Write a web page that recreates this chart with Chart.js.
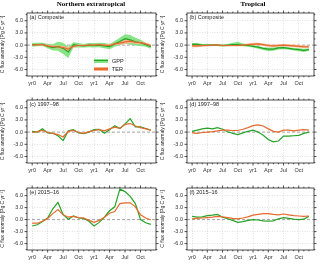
<!DOCTYPE html>
<html><head><meta charset="utf-8">
<script src="https://cdn.jsdelivr.net/npm/chart.js@4/dist/chart.umd.min.js"></script>
<style>
html,body{margin:0;padding:0;background:#fff;width:320px;height:265px;overflow:hidden;position:relative;font-family:"Liberation Sans",Arial,sans-serif;}
canvas{position:absolute;}
.ct{position:absolute;top:0;font-family:"Liberation Serif","Times New Roman",serif;font-weight:bold;font-size:7px;line-height:8px;white-space:nowrap;transform:translateX(-50%);color:#000;}
.pl{position:absolute;font-size:5.5px;line-height:6px;color:#222;white-space:nowrap;}
.sw{position:absolute;width:14px;height:4px;}
.sw i{position:absolute;left:0;right:0;top:1.4px;height:1.2px;}
</style></head><body>
<script>
// ---- data ----
const MONTH_INDEX = [0,1,2,3,4,5,6,7,8,9,10,11,12,13,14,15,16,17,18,19,20,21,22,23];
const TICK_POS = [0,3,6,9,12,15,18,21];
const TICK_LABELS = ['yr0','Apr','Jul','Oct','yr1','Apr','Jul','Oct'];
const Y_TICKS = [-6,-3,0,3,6];
const Y_MINOR = [-7.5,-4.5,-1.5,1.5,4.5,7.5];

// (a) Northern extratropical composite
const A_GPP    = [0.1,0.1,0.2,-0.3,-0.6,-0.4,-0.8,-1.7,0.1,-0.1,-0.2,0.0,-0.1,0.0,-0.2,-0.4,0.3,0.9,1.6,1.3,0.8,0.6,0.1,-0.4];
const A_GPP_HI = [0.6,0.6,0.6,0.3,0.2,0.8,0.6,-0.4,0.7,0.5,0.3,0.5,0.5,0.6,0.5,0.3,1.0,1.8,2.7,2.5,1.8,1.3,0.6,0.0];
const A_GPP_LO = [-0.4,-0.3,-0.2,-0.8,-1.3,-1.4,-2.2,-3.2,-0.6,-0.6,-0.6,-0.5,-0.6,-0.5,-0.8,-1.0,-0.4,0.0,0.4,0.1,-0.1,-0.2,-0.4,-0.9];
const A_TER    = [0.0,0.1,0.1,-0.2,-0.4,-0.4,-0.6,-1.0,-0.3,-0.1,-0.1,0.0,0.0,0.1,0.0,-0.1,0.3,0.5,0.8,1.0,0.7,0.6,0.3,-0.1];
const A_TER_HI = [0.2,0.3,0.3,0.1,-0.1,-0.1,-0.2,-0.5,0.0,0.1,0.1,0.2,0.2,0.3,0.2,0.2,0.6,0.9,1.3,1.4,1.1,0.9,0.6,0.2];
const A_TER_LO = [-0.2,-0.1,-0.1,-0.5,-0.8,-0.8,-1.1,-1.6,-0.6,-0.3,-0.3,-0.2,-0.2,-0.1,-0.2,-0.4,0.0,0.1,0.3,0.5,0.3,0.3,0.0,-0.4];

// (b) Tropical composite
const B_GPP    = [0.2,0.2,0.0,0.0,0.0,0.0,-0.1,0.0,0.1,0.1,0.0,-0.1,-0.3,-0.5,-0.8,-1.0,-1.0,-0.7,-0.6,-0.8,-1.0,-1.1,-1.3,-1.1];
const B_GPP_HI = [0.5,0.5,0.3,0.2,0.2,0.2,0.2,0.3,0.6,0.8,0.4,0.2,0.0,-0.2,-0.5,-0.6,-0.6,-0.4,-0.3,-0.5,-0.7,-0.8,-0.9,-0.8];
const B_GPP_LO = [-0.1,-0.1,-0.3,-0.3,-0.2,-0.2,-0.4,-0.3,-0.2,-0.2,-0.3,-0.4,-0.6,-0.9,-1.2,-1.5,-1.4,-1.1,-1.0,-1.1,-1.3,-1.5,-1.7,-1.4];
const B_TER    = [-0.2,-0.2,-0.1,-0.1,0.0,0.0,-0.1,-0.1,-0.1,-0.1,0.0,0.1,0.2,0.3,0.1,-0.1,-0.2,-0.1,0.0,-0.1,-0.2,-0.3,-0.4,-0.4];
const B_TER_HI = [0.1,0.1,0.1,0.1,0.2,0.2,0.1,0.1,0.1,0.1,0.2,0.4,0.6,0.6,0.4,0.2,0.1,0.2,0.3,0.2,0.1,0.0,-0.1,-0.1];
const B_TER_LO = [-0.5,-0.5,-0.4,-0.3,-0.2,-0.2,-0.3,-0.3,-0.3,-0.3,-0.2,-0.2,-0.1,0.0,-0.2,-0.4,-0.5,-0.4,-0.3,-0.4,-0.5,-0.6,-0.7,-0.7];

// (c) Northern extratropical 1997-98
const C_GPP = [0.2,0.0,0.8,-0.2,-0.3,-0.9,-2.1,0.3,0.6,-0.2,-0.4,0.0,0.6,0.7,-0.3,0.6,1.6,0.9,2.0,3.3,1.3,1.3,0.9,0.5];
const C_TER = [-0.1,0.1,0.4,-0.1,-0.3,-0.6,-1.2,0.2,0.4,-0.1,-0.3,0.1,0.4,0.6,0.3,0.8,1.2,0.9,1.9,2.1,1.5,1.1,0.8,0.5];
// (d) Tropical 1997-98
const D_GPP = [0.2,0.5,0.8,1.0,0.8,1.1,0.7,0.1,-0.3,-0.6,-0.2,0.2,0.5,0.0,-0.8,-1.8,-2.4,-2.2,-1.0,-1.0,-0.9,-0.8,-0.3,0.0];
const D_TER = [-0.2,-0.3,-0.1,0.0,0.1,0.3,0.5,0.5,0.4,0.4,0.7,1.1,1.6,1.8,1.5,0.8,0.2,0.0,0.5,0.5,0.3,0.5,0.6,0.5];
// (e) Northern extratropical 2015-16
const E_GPP = [-1.6,-1.3,-0.5,0.4,2.7,4.3,1.3,0.1,0.9,0.4,0.3,-0.4,-1.6,-0.7,0.6,2.2,3.2,7.6,7.0,5.8,4.0,0.0,-0.8,-1.2];
const E_TER = [-0.9,-0.9,-0.4,0.3,1.5,2.5,1.2,0.6,0.8,0.5,0.4,-0.2,-0.7,-0.2,0.6,1.6,2.0,4.0,4.2,4.2,3.2,1.2,0.4,-0.1];
// (f) Tropical 2015-16
const F_GPP = [0.8,0.6,0.7,1.0,1.1,1.3,0.6,0.2,-0.2,-0.7,-0.5,-0.2,0.0,-0.1,-0.3,-0.4,-0.3,0.2,0.5,0.3,0.1,0.0,0.1,0.8];
const F_TER = [0.2,0.3,0.4,0.5,0.6,0.8,0.7,0.5,0.3,0.2,0.4,0.7,1.1,1.3,1.5,1.5,1.3,1.2,1.4,1.2,1.0,0.9,0.8,0.9];

// ---- styles ----
const GPP_COLOR = '#26a226';
const TER_COLOR = '#e66a2c';
const GPP_BAND = '#86e486';
const TER_BAND = '#f6b48c';
const FONT = '"Liberation Sans", Arial, sans-serif';
const Y_MIN = -7.6, Y_MAX = 7.9;

function pts(arr){ return MONTH_INDEX.map((m,i)=>({x:m,y:arr[i]})); }
function lineDs(arr,color){ return {data:pts(arr),borderColor:color,borderWidth:1.2,pointRadius:0,fill:false,tension:0}; }
function bandDs(hi,lo,color){
  return [
    {data:pts(hi),borderColor:'rgba(0,0,0,0)',borderWidth:0,pointRadius:0,fill:'+1',backgroundColor:color,tension:0},
    {data:pts(lo),borderColor:'rgba(0,0,0,0)',borderWidth:0,pointRadius:0,fill:false,tension:0}
  ];
}

const decor = {
  id:'decor',
  beforeDatasetsDraw(chart){
    const {ctx, chartArea:a, scales:{y}} = chart;
    const y0 = y.getPixelForValue(0);
    ctx.save(); ctx.strokeStyle='#8a8a8a'; ctx.lineWidth=0.8; ctx.setLineDash([3,2]);
    ctx.beginPath(); ctx.moveTo(a.left,y0); ctx.lineTo(a.right,y0); ctx.stroke(); ctx.restore();
  },
  afterDraw(chart){
    const {ctx, chartArea:a, scales:{x,y}} = chart;
    ctx.save();
    ctx.strokeStyle='#222'; ctx.lineWidth=0.8;
    ctx.strokeRect(a.left, a.top, a.right-a.left, a.bottom-a.top);
    ctx.beginPath();
    MONTH_INDEX.forEach(m=>{
      const px = x.getPixelForValue(m);
      const L = TICK_POS.includes(m) ? 2.5 : 1.3;
      ctx.moveTo(px,a.bottom); ctx.lineTo(px,a.bottom+L);
      ctx.moveTo(px,a.top); ctx.lineTo(px,a.top-L);
    });
    Y_TICKS.concat(Y_MINOR).forEach(v=>{
      const py = y.getPixelForValue(v);
      const L = Y_TICKS.includes(v) ? 2.5 : 1.3;
      ctx.moveTo(a.left,py); ctx.lineTo(a.left-L,py);
      ctx.moveTo(a.right,py); ctx.lineTo(a.right+L,py);
    });
    ctx.stroke();
    ctx.restore();
  }
};

function makePanel(left, top, w, h, area, datasets){
  const c = document.createElement('canvas');
  c.width = w; c.height = h;
  c.style.left = left+'px'; c.style.top = top+'px';
  c.style.width = w+'px'; c.style.height = h+'px';
  document.body.appendChild(c);
  new Chart(c, {
    type:'line',
    data:{datasets},
    plugins:[decor],
    options:{
      responsive:false, animation:false, devicePixelRatio:1,
      layout:{padding:{top:area.t, right:w-area.r, left:0, bottom:0}},
      plugins:{legend:{display:false}, tooltip:{enabled:false}},
      scales:{
        x:{type:'linear', min:-1, max:24,
          afterBuildTicks:s=>{ s.ticks = TICK_POS.map(v=>({value:v})); },
          afterFit:s=>{ s.height = h-area.b; },
          ticks:{callback:v=>TICK_LABELS[TICK_POS.indexOf(v)], font:{size:5.5,family:FONT}, color:'#333', padding:4, maxRotation:0, autoSkip:false},
          grid:{color:'#cfcfcf', lineWidth:0.6, drawTicks:false},
          border:{display:false, dash:[1,1.5]}
        },
        y:{min:Y_MIN, max:Y_MAX,
          afterBuildTicks:s=>{ s.ticks = Y_TICKS.map(v=>({value:v})); },
          afterFit:s=>{ s.width = area.l; },
          ticks:{callback:v=>v.toFixed(1), font:{size:5.5,family:FONT}, color:'#333', padding:4},
          title:{display:true, text:'C flux anomaly [Pg C yr\u207B\u00B9]', font:{size:5,family:FONT}, color:'#222', padding:{top:0,bottom:1}},
          grid:{color:ctx=> (ctx.tick && ctx.tick.value===0) ? 'rgba(0,0,0,0)' : '#cfcfcf', lineWidth:0.6, drawTicks:false},
          border:{display:false, dash:[1,1.5]}
        }
      }
    }
  });
}

const COLS = [{left:0,w:160,l:27,r:156},{left:160,w:160,l:27,r:154}];
const ROWS = [{top:0,h:88,t:13,b:76},{top:88,h:88,t:12,b:75},{top:176,h:89,t:12,b:74}];

const PANELS = [
  {c:0,r:0,label:'(a) Composite', ds:[lineDs(A_TER,TER_COLOR), lineDs(A_GPP,GPP_COLOR)].concat(bandDs(A_TER_HI,A_TER_LO,TER_BAND), bandDs(A_GPP_HI,A_GPP_LO,GPP_BAND))},
  {c:1,r:0,label:'(b) Composite', ds:[lineDs(B_TER,TER_COLOR), lineDs(B_GPP,GPP_COLOR)].concat(bandDs(B_TER_HI,B_TER_LO,TER_BAND), bandDs(B_GPP_HI,B_GPP_LO,GPP_BAND))},
  {c:0,r:1,label:'(c) 1997\u201398', ds:[lineDs(C_TER,TER_COLOR), lineDs(C_GPP,GPP_COLOR)]},
  {c:1,r:1,label:'(d) 1997\u201398', ds:[lineDs(D_TER,TER_COLOR), lineDs(D_GPP,GPP_COLOR)]},
  {c:0,r:2,label:'(e) 2015\u201316', ds:[lineDs(E_TER,TER_COLOR), lineDs(E_GPP,GPP_COLOR)]},
  {c:1,r:2,label:'(f) 2015\u201316', ds:[lineDs(F_TER,TER_COLOR), lineDs(F_GPP,GPP_COLOR)]}
];

PANELS.forEach(p=>{
  const C = COLS[p.c], R = ROWS[p.r];
  makePanel(C.left, R.top, C.w, R.h, {l:C.l, r:C.r, t:R.t, b:R.b}, p.ds);
  const d = document.createElement('div');
  d.className='pl'; d.textContent = p.label;
  d.style.left = (C.left + C.l + 2.5)+'px';
  d.style.top = (R.top + R.t + 1.2)+'px';
  document.body.appendChild(d);
});

// column titles
[['Northern extratropical',91],['Tropical',253]].forEach(([t,x])=>{
  const d=document.createElement('div'); d.className='ct'; d.textContent=t; d.style.left=x+'px'; document.body.appendChild(d);
});

// legend in panel (a)
[['GPP',GPP_COLOR,GPP_BAND,58.7],['TER',TER_COLOR,TER_BAND,67]].forEach(([t,lc,bc,y])=>{
  const s=document.createElement('div'); s.className='sw'; s.style.left='94px'; s.style.top=y+'px'; s.style.background=bc;
  const i=document.createElement('i'); i.style.background=lc; s.appendChild(i); document.body.appendChild(s);
  const d=document.createElement('div'); d.className='pl'; d.textContent=t; d.style.left='112px'; d.style.top=(y-1)+'px'; document.body.appendChild(d);
});
</script>
</body></html>
